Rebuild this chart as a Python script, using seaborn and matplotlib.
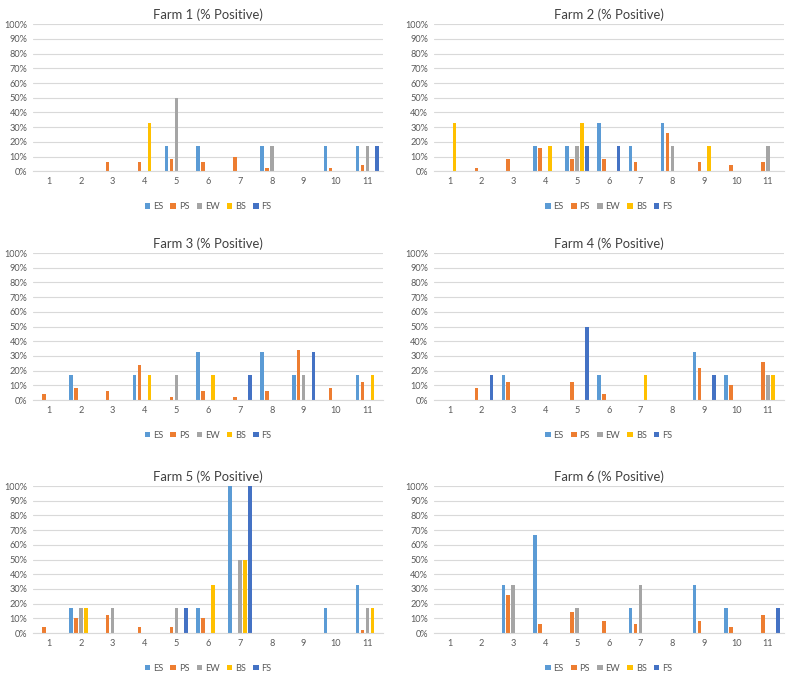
import pandas as pd
import numpy as np
import matplotlib
matplotlib.use('Agg')
import matplotlib.pyplot as plt
from matplotlib.ticker import PercentFormatter
import seaborn as sns

# %%
samples = ['1', '2', '3', '4', '5', '6', '7', '8', '9', '10', '11']
series = ['ES', 'PS', 'EW', 'BS', 'FS']
colors = ['#5B9BD5', '#ED7D31', '#A5A5A5', '#FFC000', '#4472C4']

# % positive per sample
farm1 = {'ES': [0, 0, 0, 0, 17, 17, 0, 17, 0, 17, 17],
         'PS': [0, 0, 6, 6, 8, 6, 10, 2, 0, 2, 4],
         'EW': [0, 0, 0, 0, 50, 0, 0, 17, 0, 0, 17],
         'BS': [0, 0, 0, 33, 0, 0, 0, 0, 0, 0, 0],
         'FS': [0, 0, 0, 0, 0, 0, 0, 0, 0, 0, 17]}
farm2 = {'ES': [0, 0, 0, 17, 17, 33, 17, 33, 0, 0, 0],
         'PS': [0, 2, 8, 16, 8, 8, 6, 26, 6, 4, 6],
         'EW': [0, 0, 0, 0, 17, 0, 0, 17, 0, 0, 17],
         'BS': [33, 0, 0, 17, 33, 0, 0, 0, 17, 0, 0],
         'FS': [0, 0, 0, 0, 17, 17, 0, 0, 0, 0, 0]}
farm3 = {'ES': [0, 17, 0, 17, 0, 33, 0, 33, 17, 0, 17],
         'PS': [4, 8, 6, 24, 2, 6, 2, 6, 34, 8, 12],
         'EW': [0, 0, 0, 0, 17, 0, 0, 0, 17, 0, 0],
         'BS': [0, 0, 0, 17, 0, 17, 0, 0, 0, 0, 17],
         'FS': [0, 0, 0, 0, 0, 0, 17, 0, 33, 0, 0]}
farm4 = {'ES': [0, 0, 17, 0, 0, 17, 0, 0, 33, 17, 0],
         'PS': [0, 8, 12, 0, 12, 4, 0, 0, 22, 10, 26],
         'EW': [0, 0, 0, 0, 0, 0, 0, 0, 0, 0, 17],
         'BS': [0, 0, 0, 0, 0, 0, 17, 0, 0, 0, 17],
         'FS': [0, 17, 0, 0, 50, 0, 0, 0, 17, 0, 0]}
farm5 = {'ES': [0, 17, 0, 0, 0, 17, 100, 0, 0, 17, 33],
         'PS': [4, 10, 12, 4, 4, 10, 0, 0, 0, 0, 2],
         'EW': [0, 17, 17, 0, 17, 0, 50, 0, 0, 0, 17],
         'BS': [0, 17, 0, 0, 0, 33, 50, 0, 0, 0, 17],
         'FS': [0, 0, 0, 0, 17, 0, 100, 0, 0, 0, 0]}
farm6 = {'ES': [0, 0, 33, 67, 0, 0, 17, 0, 33, 17, 0],
         'PS': [0, 0, 26, 6, 14, 8, 6, 0, 8, 4, 12],
         'EW': [0, 0, 33, 0, 17, 0, 33, 0, 0, 0, 0],
         'BS': [0, 0, 0, 0, 0, 0, 0, 0, 0, 0, 0],
         'FS': [0, 0, 0, 0, 0, 0, 0, 0, 0, 0, 17]}
farms = [farm1, farm2, farm3, farm4, farm5, farm6]

# %%
sns.set_style('white')
plt.rcParams['font.family'] = ['Lato', 'DejaVu Sans']
plt.rcParams['text.color'] = '#404040'

fig = plt.figure(figsize=(7.87, 6.74), dpi=100)
lefts = [0.042, 0.551]
bottoms = [0.746, 0.4065, 0.0608]
w, h = 0.445, 0.218

for i, farm in enumerate(farms):
    ax = fig.add_axes([lefts[i % 2], bottoms[i // 2], w, h])
    df = pd.DataFrame(farm, index=samples).reset_index(names='sample')
    df = df.melt(id_vars='sample', var_name='type', value_name='pct')
    sns.barplot(data=df, x='sample', y='pct', hue='type', hue_order=series,
                palette=colors, saturation=1, width=0.78, gap=0.28,
                linewidth=0, ax=ax)
    ax.set_ylim(0, 100)
    ax.set_xlim(-0.5, 10.5)
    ax.set_yticks(np.arange(0, 101, 10))
    ax.yaxis.set_major_formatter(PercentFormatter(decimals=0))
    ax.grid(axis='y', color='#D9D9D9', linewidth=0.8)
    ax.set_axisbelow(True)
    for s in ['top', 'left', 'right']:
        ax.spines[s].set_visible(False)
    ax.spines['bottom'].set_color('#D9D9D9')
    ax.tick_params(axis='both', length=0, labelsize=6.6, colors='#595959', pad=4)
    ax.set_xlabel('')
    ax.set_ylabel('')
    ax.set_title(f'Farm {i + 1} (% Positive)', fontsize=9.4, color='#404040', pad=4)
    ax.legend(loc='center', bbox_to_anchor=(0.5, -0.24), ncol=5, frameon=False,
              fontsize=6.6, handlelength=0.6, handleheight=0.6, handletextpad=0.3,
              columnspacing=0.8, labelcolor='#595959')

plt.savefig('out.png', dpi=100)
